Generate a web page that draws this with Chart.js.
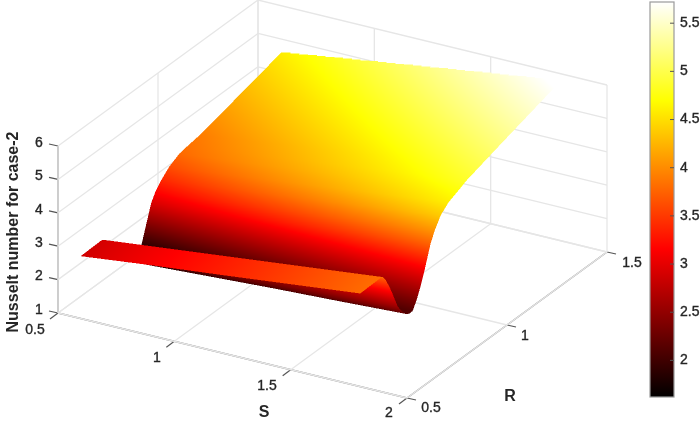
<!DOCTYPE html>
<html><head><meta charset="utf-8">
<style>html,body{margin:0;padding:0;background:#fff}canvas{display:block}</style>
<script src="https://cdn.jsdelivr.net/npm/chart.js@4/dist/chart.umd.min.js"></script>
</head><body><canvas id="c" width="700" height="421"></canvas>
<script>
const S_VALUES=[0.6,0.9,1.2,1.5,1.8];
const R_VALUES=[0.5,0.6,0.61,0.625,0.64,0.655,0.67,0.685,0.7,0.715,0.73,0.745,0.76,0.78,0.8,0.82,0.85,0.87,0.9,0.94,0.99,1.03,1.09,1.2,1.5];
const NU_S06=[2.88,2.90,2.88,2.78,2.62,2.45,2.26,2.07,1.92,1.80,1.75,1.74,1.75,1.78,1.85,2.28,2.92,3.16,3.39,3.62,3.79,3.84,3.90,4.08,4.59];
const NU_S09=[3.12,3.13,3.11,3.00,2.83,2.63,2.41,2.20,2.04,1.92,1.85,1.84,1.85,1.93,2.07,2.48,3.13,3.38,3.64,3.86,4.02,4.09,4.17,4.36,4.89];
const NU_S12=[3.34,3.36,3.34,3.22,3.02,2.81,2.57,2.34,2.17,2.04,1.96,1.93,1.94,2.07,2.28,2.69,3.34,3.60,3.88,4.11,4.26,4.35,4.44,4.64,5.19];
const NU_S15=[3.57,3.59,3.57,3.43,3.22,2.99,2.72,2.47,2.29,2.16,2.06,2.03,2.04,2.22,2.49,2.90,3.55,3.83,4.13,4.36,4.50,4.60,4.71,4.92,5.49];
const NU_S18=[3.80,3.82,3.80,3.65,3.42,3.17,2.88,2.60,2.42,2.28,2.17,2.12,2.13,2.37,2.70,3.10,3.76,4.05,4.38,4.60,4.74,4.86,4.98,5.20,5.78];
const S_TICKS=[0.5,1,1.5,2];
const R_TICKS=[0.5,1,1.5];
const Z_TICKS=[1,2,3,4,5,6];
const COLORBAR_TICKS=[2,2.5,3,3.5,4,4.5,5,5.5];
const NU_MIN=1.62, NU_MAX=5.72;

const NU_ROWS=[NU_S06,NU_S09,NU_S12,NU_S15,NU_S18];
// orthographic view of the box: data -> scale units
function proj(s,r,z){
  const a=(s-0.5)/1.5,b=(r-0.5),c=(z-1);
  return {x:58+349*a+200*b, y:313+85*a-146*b-33.4*c};
}
function hotRGB(z){
  const t=Math.max(0,Math.min(1,(z-NU_MIN)/(NU_MAX-NU_MIN)));
  return [Math.min(1,t/0.375)*255, Math.max(0,Math.min(1,(t-0.375)/0.375))*255, Math.max(0,(t-0.75)/0.25)*255];
}
function hot(z){const c=hotRGB(z);return `rgb(${Math.round(c[0])},${Math.round(c[1])},${Math.round(c[2])})`;}
const GRID='#e6e6e6', AXIS='#808080', TICK='#555555';
const datasets=[];
function seg(p,q,color,w){datasets.push({type:'scatter',showLine:true,data:[p,q],borderColor:color,borderWidth:w,pointRadius:0,fill:false});}
// surface grid points (row per S, column per R)
const surfacePoints=[];
S_VALUES.forEach((s,i)=>R_VALUES.forEach((r,j)=>surfacePoints.push(proj(s,r,NU_ROWS[i][j]))));
datasets.push({label:'Nusselt number for case-2',type:'scatter',showLine:false,pointRadius:0,data:surfacePoints});
// walls and floor grid
Z_TICKS.forEach(z=>{seg(proj(.5,.5,z),proj(.5,1.5,z),GRID,1.3);seg(proj(.5,1.5,z),proj(2,1.5,z),GRID,1.3);});
S_TICKS.forEach(s=>{seg(proj(s,.5,1),proj(s,1.5,1),GRID,1.3);seg(proj(s,1.5,1),proj(s,1.5,6),GRID,1.3);});
R_TICKS.forEach(r=>{seg(proj(.5,r,1),proj(2,r,1),GRID,1.3);seg(proj(.5,r,1),proj(.5,r,6),GRID,1.3);});
// axes and ticks
seg(proj(.5,.5,1),proj(.5,.5,6),AXIS,1.5);
seg(proj(.5,.5,1),proj(2,.5,1),AXIS,1.5);
seg(proj(2,.5,1),proj(2,1.5,1),AXIS,1.5);
Z_TICKS.forEach(z=>{const p=proj(.5,.5,z);seg(p,{x:p.x-9,y:p.y-2},TICK,1.2);});
S_TICKS.forEach(s=>{const p=proj(s,.5,1);seg(p,{x:p.x-8,y:p.y+6},TICK,1.2);});
R_TICKS.forEach(r=>{const p=proj(2,r,1);seg(p,{x:p.x+9,y:p.y+2},TICK,1.2);});

const surfacePlugin={id:'surface',afterDatasetsDraw(chart){
  const ctx=chart.ctx, sc=chart.scales, pts=chart.getDatasetMeta(0).data;
  const nS=S_VALUES.length,nR=R_VALUES.length;
  const at=(i,j)=>pts[i*nR+j];
  // rasterise the shaded surface at 2x, back to front
  const SS=2,W=chart.width*SS,H=chart.height*SS;
  const off=document.createElement('canvas');off.width=W;off.height=H;
  const octx=off.getContext('2d'),img=octx.createImageData(W,H),buf=img.data;
  function tri(a,b,c){
    const d=(b.y-c.y)*(a.x-c.x)+(c.x-b.x)*(a.y-c.y);
    if(Math.abs(d)<1e-9)return;
    const x0=Math.max(0,Math.floor(Math.min(a.x,b.x,c.x))),x1=Math.min(W-1,Math.ceil(Math.max(a.x,b.x,c.x)));
    const y0=Math.max(0,Math.floor(Math.min(a.y,b.y,c.y))),y1=Math.min(H-1,Math.ceil(Math.max(a.y,b.y,c.y)));
    const e=-0.02;
    for(let y=y0;y<=y1;y++)for(let x=x0;x<=x1;x++){
      const px=x+.5,py=y+.5;
      const l1=((b.y-c.y)*(px-c.x)+(c.x-b.x)*(py-c.y))/d;
      const l2=((c.y-a.y)*(px-c.x)+(a.x-c.x)*(py-c.y))/d;
      const l3=1-l1-l2;
      if(l1<e||l2<e||l3<e)continue;
      const col=hotRGB(l1*a.z+l2*b.z+l3*c.z),o=(y*W+x)*4;
      buf[o]=col[0];buf[o+1]=col[1];buf[o+2]=col[2];buf[o+3]=255;
    }
  }
  const SUB=8;
  for(let j=nR-2;j>=0;j--){
    for(let i=0;i<nS-1;i++){
      const A=at(i,j),B=at(i+1,j),C=at(i+1,j+1),D=at(i,j+1);
      const za=NU_ROWS[i][j],zb=NU_ROWS[i+1][j],zc=NU_ROWS[i+1][j+1],zd=NU_ROWS[i][j+1];
      const f=(u,v)=>({x:SS*(A.x*(1-u)*(1-v)+B.x*u*(1-v)+C.x*u*v+D.x*(1-u)*v),
                       y:SS*(A.y*(1-u)*(1-v)+B.y*u*(1-v)+C.y*u*v+D.y*(1-u)*v),
                       z:za*(1-u)*(1-v)+zb*u*(1-v)+zc*u*v+zd*(1-u)*v});
      for(let a=0;a<SUB;a++){
        const p=f(a/SUB,0),q=f((a+1)/SUB,0),r=f((a+1)/SUB,1),s=f(a/SUB,1);
        tri(p,q,r);tri(p,r,s);
      }
    }
  }
  octx.putImageData(img,0,0);
  ctx.save();
  ctx.imageSmoothingEnabled=true;ctx.imageSmoothingQuality='high';
  ctx.filter='blur(0.4px)';
  ctx.drawImage(off,0,0,chart.width,chart.height);
  ctx.filter='none';
  // colorbar
  const X=v=>sc.x.getPixelForValue(v),Y=v=>sc.y.getPixelForValue(v);
  const top=2,bot=397,l=650,r=674;
  const zy=z=>bot-(z-NU_MIN)/(NU_MAX-NU_MIN)*(bot-top);
  const g=ctx.createLinearGradient(0,Y(bot),0,Y(top));
  for(let k=0;k<=40;k++){g.addColorStop(k/40,hot(NU_MIN+(NU_MAX-NU_MIN)*k/40));}
  ctx.fillStyle=g;ctx.fillRect(X(l),Y(top),X(r)-X(l),Y(bot)-Y(top));
  ctx.strokeStyle='#9a9a9a';ctx.lineWidth=1.2;ctx.strokeRect(X(l),Y(top),X(r)-X(l),Y(bot)-Y(top));
  ctx.fillStyle='#262626';ctx.textBaseline='middle';ctx.textAlign='left';
  ctx.font='14px "Liberation Sans"';
  const tx=(s,x,y)=>{ctx.fillText(s,X(x),Y(y));ctx.strokeStyle='#262626';ctx.lineWidth=0.35;ctx.strokeText(s,X(x),Y(y));};
  COLORBAR_TICKS.forEach(t=>{
    ctx.strokeStyle='#555';ctx.lineWidth=1;ctx.beginPath();ctx.moveTo(X(r-4),Y(zy(t)));ctx.lineTo(X(r),Y(zy(t)));ctx.stroke();
    tx(String(t),680,zy(t));
  });
  // axis labels
  ctx.textAlign='center';
  Z_TICKS.forEach(z=>tx(String(z),39,proj(.5,.5,z).y-3));
  const sPos=[[35,330],[157,358],[267,386],[389,413]];
  S_TICKS.forEach((t,i)=>tx(String(t),sPos[i][0],sPos[i][1]));
  const rPos=[[431,408],[525,336],[632,263]];
  R_TICKS.forEach((t,i)=>tx(String(t),rPos[i][0],rPos[i][1]));
  ctx.font='bold 16px "Liberation Sans"';
  ctx.fillText('S',X(264),Y(413));ctx.fillText('R',X(510),Y(397));
  ctx.translate(X(14),Y(232));ctx.rotate(-Math.PI/2);
  ctx.fillText('Nusselt number for case-2',0,0);
  ctx.restore();
}};

new Chart(document.getElementById('c'),{
  type:'scatter',
  data:{datasets},
  options:{responsive:false,animation:false,
    layout:{padding:0},
    plugins:{legend:{display:false},tooltip:{enabled:false}},
    scales:{x:{type:'linear',min:0,max:700,display:false},y:{type:'linear',min:0,max:421,reverse:true,display:false}}},
  plugins:[surfacePlugin]
});
</script></body></html>
